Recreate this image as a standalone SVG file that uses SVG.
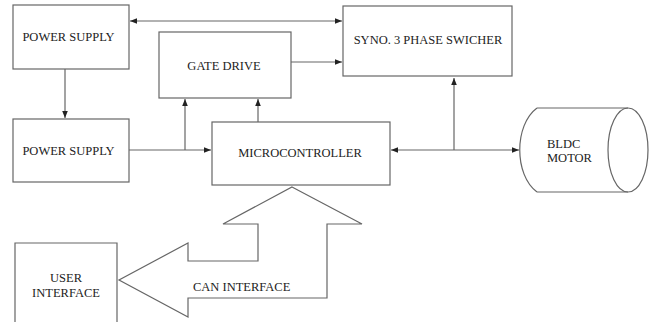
<svg xmlns="http://www.w3.org/2000/svg" width="653" height="322" viewBox="0 0 653 322">
  <defs>
    <marker id="ah" viewBox="0 0 10 10" refX="10" refY="5" markerWidth="7" markerHeight="7" orient="auto-start-reverse" markerUnits="userSpaceOnUse">
      <path d="M0,1 L10,5 L0,9 Z" fill="#222"/>
    </marker>
    <style>
      .box { fill: #fff; stroke: #666; stroke-width: 1.2; }
      .ln { fill: none; stroke: #666; stroke-width: 1.2; }
      .lbl { font-family: "Liberation Serif", "Times New Roman", serif; font-size: 12.5px; fill: #222; }
      .mid { text-anchor: middle; }
    </style>
  </defs>
  <rect width="653" height="322" fill="#fff"/>

  <g id="power-supply-1">
    <rect class="box" x="13" y="5" width="116" height="64"/>
    <text class="lbl" x="68.5" y="41" text-anchor="middle">POWER SUPPLY</text>
  </g>

  <g id="power-supply-2">
    <rect class="box" x="13" y="119" width="116" height="63"/>
    <text class="lbl" x="68.5" y="155" text-anchor="middle">POWER SUPPLY</text>
  </g>

  <g id="gate-drive">
    <rect class="box" x="159" y="32" width="132" height="66"/>
    <text class="lbl" x="224" y="70" text-anchor="middle">GATE DRIVE</text>
  </g>

  <g id="switcher">
    <rect class="box" x="343" y="6" width="169" height="70"/>
    <text class="lbl" x="428" y="44" text-anchor="middle">SYNO. 3 PHASE SWICHER</text>
  </g>

  <g id="microcontroller">
    <rect class="box" x="212" y="122" width="178" height="63"/>
    <text class="lbl" x="300" y="157" text-anchor="middle">MICROCONTROLLER</text>
  </g>

  <g id="bldc-motor">
    <path class="ln" d="M537,108 L628,108 M537,192 L628,192 M537,108 C514,125 514,175 537,192"/>
    <ellipse class="ln" cx="628" cy="150" rx="20" ry="42"/>
    <text class="lbl" x="547" y="148">BLDC</text>
    <text class="lbl" x="547" y="162">MOTOR</text>
  </g>

  <g id="user-interface">
    <path class="ln" d="M15,322 L15,243 L117,243 L117,322"/>
    <text class="lbl" x="66" y="282" text-anchor="middle">USER</text>
    <text class="lbl" x="66" y="297" text-anchor="middle">INTERFACE</text>
  </g>

  <g id="can-interface">
    <polygon class="box" points="292,187 362,224 327,224 327,298 188,298 188,317 119,280 188,243 188,261 258,261 258,224 223,224"/>
    <text class="lbl" x="193" y="291">CAN INTERFACE</text>
  </g>

  <g id="connectors">
    <line class="ln" x1="130" y1="21" x2="342" y2="21" marker-start="url(#ah)" marker-end="url(#ah)"/>
    <line class="ln" x1="65" y1="69" x2="65" y2="118" marker-end="url(#ah)"/>
    <line class="ln" x1="129" y1="150" x2="211" y2="150" marker-end="url(#ah)"/>
    <line class="ln" x1="185" y1="150" x2="185" y2="99" marker-end="url(#ah)"/>
    <line class="ln" x1="291" y1="62" x2="342" y2="62" marker-end="url(#ah)"/>
    <line class="ln" x1="258" y1="122" x2="258" y2="99" marker-end="url(#ah)"/>
    <line class="ln" x1="391" y1="150" x2="519" y2="150" marker-start="url(#ah)" marker-end="url(#ah)"/>
    <line class="ln" x1="454" y1="150" x2="454" y2="78" marker-end="url(#ah)"/>
  </g>
</svg>
